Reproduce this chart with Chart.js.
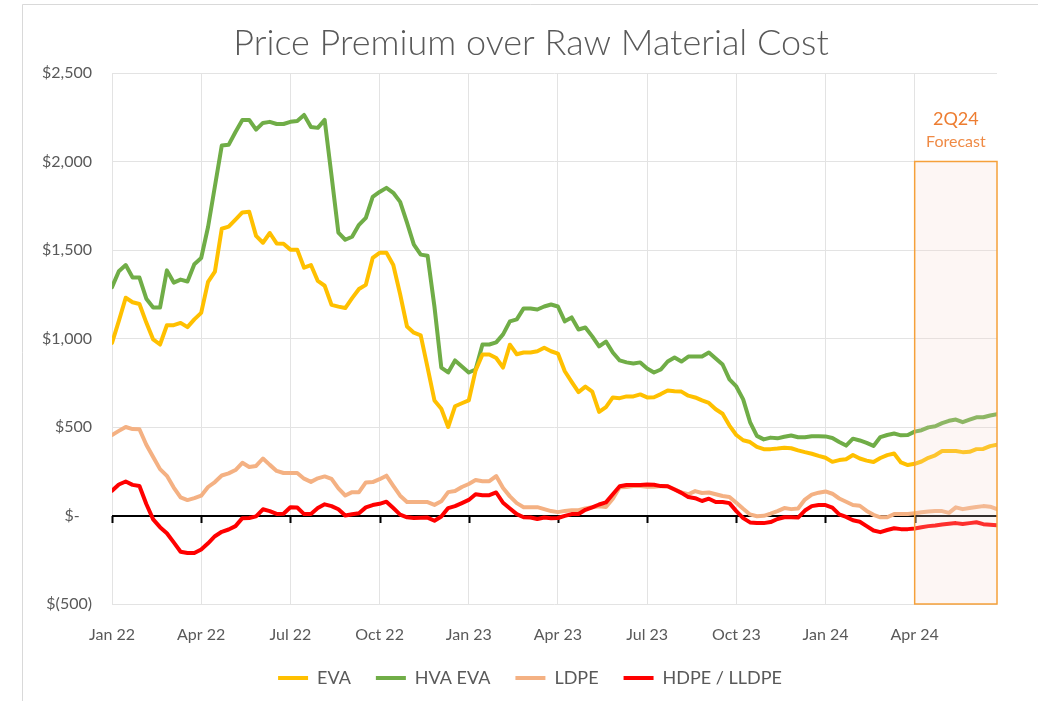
<!DOCTYPE html>
<html><head><meta charset="utf-8">
<script src="https://cdn.jsdelivr.net/npm/chart.js@4.4.1/dist/chart.umd.min.js"></script>
<style>html,body{margin:0;padding:0;background:#fff;}#wrap{width:1038px;height:701px;position:relative;}</style>
</head><body><div id="wrap"><canvas id="c" width="1038" height="701"></canvas></div>
<script>
const TITLE = 'Price Premium over Raw Material Cost';
const quarterLabels = ['Jan 22','Apr 22','Jul 22','Oct 22','Jan 23','Apr 23','Jul 23','Oct 23','Jan 24','Apr 24'];
const quarterTickWeeks = [0,13,26,39,52,65,78,91,104,117];
const yTickValues = [-500,0,500,1000,1500,2000,2500];
const yTickLabels = ['$(500)','$-   ','$500','$1,000','$1,500','$2,000','$2,500'];
const seriesNames = ['EVA','HVA EVA','LDPE','HDPE / LLDPE'];
const forecastStartWeek = 117, forecastEndWeek = 129, forecastTopValue = 2000;
const forecastLabel1 = '2Q24', forecastLabel2 = 'Forecast';

const EVA = [975,1100,1230,1205,1195,1090,995,966,1075,1075,1088,1064,1108,1145,1320,1378,1620,1632,1672,1712,
1716,1580,1541,1596,1537,1535,1502,1502,1400,1415,1325,1298,1190,1180,1172,1228,1280,1303,1455,1484,
1485,1415,1250,1068,1033,1018,835,650,603,500,617,634,650,820,910,910,890,836,965,911,
921,921,928,948,928,915,815,755,697,728,700,585,612,667,663,673,673,684,667,668,
686,706,702,700,677,667,650,636,600,575,508,455,425,415,388,375,375,378,383,380,
368,358,349,337,326,303,313,318,342,322,310,302,325,341,350,300,285,292,305,326,
340,364,364,364,358,360,375,376,392,400];
const HVA_EVA = [1290,1380,1415,1345,1344,1225,1175,1175,1385,1316,1333,1322,1420,1455,1630,1860,2090,2094,2167,2235,
2235,2180,2218,2224,2212,2212,2224,2229,2263,2195,2190,2235,1920,1598,1558,1575,1642,1682,1800,1828,
1851,1823,1772,1654,1530,1474,1468,1180,836,808,876,842,808,825,966,966,978,1023,1097,1108,
1170,1170,1164,1181,1192,1181,1097,1119,1051,1062,1012,955,983,921,876,865,859,865,831,808,
825,870,893,870,898,898,898,921,887,853,769,729,656,528,450,430,440,436,445,452,
442,442,448,448,447,438,415,395,434,424,410,393,443,455,463,453,455,474,482,498,
504,522,535,542,527,541,555,555,565,572];
const LDPE = [455,478,500,488,487,400,330,262,224,158,102,87,98,112,161,189,226,238,257,298,
274,280,322,286,252,240,240,240,208,190,210,221,207,153,113,132,132,187,189,205,
225,168,112,76,76,76,76,60,80,132,138,161,178,200,194,194,223,155,108,70,
47,47,47,36,25,19,26,30,30,40,47,52,48,95,160,161,166,166,163,162,
166,165,148,130,120,138,127,130,120,110,105,72,38,6,-4,-2,10,25,42,36,
40,90,118,129,136,123,96,78,59,55,26,4,-10,-10,8,8,8,13,18,22,
25,25,15,46,36,42,48,53,50,36];
const HDPE_LLDPE = [140,175,192,173,167,65,-22,-66,-100,-152,-205,-212,-212,-192,-157,-117,-92,-79,-60,-15,
-14,-5,35,25,9,10,47,45,8,8,42,63,53,35,0,7,13,46,59,66,
78,42,5,-10,-14,-13,-12,-30,-6,42,53,70,88,120,115,115,130,72,40,8,
-10,-11,-20,-11,-15,-14,-2,8,9,32,46,62,74,120,165,172,172,172,175,174,
166,165,147,128,104,98,82,95,76,76,70,25,-15,-39,-43,-43,-37,-20,-10,-10,
-12,28,53,59,59,45,6,-8,-27,-35,-60,-85,-94,-82,-72,-77,-77,-73,-66,-60,
-56,-51,-47,-43,-48,-43,-38,-49,-52,-55];
const weekIndex = EVA.map((_, i) => i);

const FONT = "Lato, 'Noto Sans', sans-serif";
const TXT = '#595959';

const deco = {
  id: 'deco',
  beforeDraw(chart) {
    const ctx = chart.ctx;
    ctx.save();
    ctx.fillStyle = '#fff';
    ctx.fillRect(0, 0, chart.width, chart.height);
    ctx.strokeStyle = '#d9d9d9';
    ctx.lineWidth = 1;
    ctx.beginPath();
    ctx.moveTo(22.5, chart.height);
    ctx.lineTo(22.5, 4.5);
    ctx.lineTo(chart.width, 4.5);
    ctx.stroke();
    ctx.fillStyle = TXT;
    ctx.font = "300 36px " + FONT;
    ctx.textAlign = 'center';
    ctx.textBaseline = 'middle';
    ctx.fillText(TITLE, 531, 43);
    ctx.restore();
  },
  beforeDatasetsDraw(chart) {
    const ctx = chart.ctx, xs = chart.scales.x, ys = chart.scales.y, a = chart.chartArea;
    const y0 = Math.round(ys.getPixelForValue(0));
    ctx.save();
    ctx.strokeStyle = '#000';
    ctx.lineWidth = 2;
    ctx.beginPath();
    ctx.moveTo(a.left, y0);
    ctx.lineTo(a.right, y0);
    quarterTickWeeks.forEach(w => {
      const px = Math.round(xs.getPixelForValue(w)) + 0.5;
      ctx.moveTo(px, y0);
      ctx.lineTo(px, y0 + 7);
    });
    ctx.stroke();
    ctx.restore();
  },
  afterDatasetsDraw(chart) {
    const ctx = chart.ctx, xs = chart.scales.x, ys = chart.scales.y;
    const x1 = xs.getPixelForValue(forecastStartWeek), x2 = xs.getPixelForValue(forecastEndWeek);
    const yT = ys.getPixelForValue(forecastTopValue), yB = ys.getPixelForValue(-500);
    ctx.save();
    ctx.fillStyle = 'rgba(248,212,205,0.22)';
    ctx.fillRect(x1, yT, x2 - x1, yB - yT);
    ctx.strokeStyle = '#f5a03a';
    ctx.lineWidth = 1.5;
    ctx.strokeRect(x1, yT, x2 - x1, yB - yT);
    ctx.fillStyle = '#ed7d31';
    ctx.textAlign = 'center';
    ctx.textBaseline = 'middle';
    const cx = (x1 + x2) / 2;
    ctx.font = "18px " + FONT;
    ctx.fillText(forecastLabel1, cx, yT - 42);
    ctx.globalAlpha = 0.9;
    ctx.font = "16px " + FONT;
    ctx.fillText(forecastLabel2, cx, yT - 20);
    ctx.restore();
  }
};

function ds(label, data, color, order) {
  return { label, data, borderColor: color, backgroundColor: color, borderWidth: 4,
    pointRadius: 0, pointHoverRadius: 0, tension: 0, fill: false,
    borderJoinStyle: 'round', borderCapStyle: 'round', order };
}

new Chart(document.getElementById('c'), {
  type: 'line',
  data: {
    labels: weekIndex,
    datasets: [
      ds(seriesNames[0], EVA, '#ffc000', 2),
      ds(seriesNames[1], HVA_EVA, '#70ad47', 3),
      ds(seriesNames[2], LDPE, '#f4b183', 1),
      ds(seriesNames[3], HDPE_LLDPE, '#ff0000', 0)
    ]
  },
  options: {
    responsive: false,
    animation: false,
    devicePixelRatio: 1,
    layout: { padding: { left: 22, right: 0, top: 73, bottom: 4 } },
    plugins: {
      title: { display: false },
      tooltip: { enabled: false },
      legend: {
        position: 'bottom',
        labels: {
          usePointStyle: true, pointStyle: 'line', pointStyleWidth: 30,
          padding: 25, color: TXT, font: { family: FONT, size: 18 },
          sort: (a, b) => a.datasetIndex - b.datasetIndex
        }
      }
    },
    scales: {
      x: {
        type: 'linear', min: 0, max: forecastEndWeek,
        afterBuildTicks: s => { s.ticks = quarterTickWeeks.map(v => ({ value: v })); },
        afterFit: s => { s.height = 40; },
        grid: { color: '#e3e3e3', lineWidth: 1, drawTicks: false },
        border: { display: false },
        ticks: {
          padding: 21, color: TXT, font: { family: FONT, size: 16 },
          maxRotation: 0, autoSkip: false,
          callback: v => quarterLabels[quarterTickWeeks.indexOf(v)]
        }
      },
      y: {
        min: -500, max: 2500,
        afterBuildTicks: s => { s.ticks = yTickValues.map(v => ({ value: v })); },
        afterFit: s => { s.width = 90; },
        grid: { color: '#e3e3e3', lineWidth: 1, drawTicks: false },
        border: { display: false },
        ticks: {
          padding: 20, color: TXT, font: { family: FONT, size: 16 },
          callback: v => yTickLabels[yTickValues.indexOf(v)]
        }
      },
      yRightSpace: {
        position: 'right', display: true,
        afterFit: s => { s.width = 41; },
        grid: { display: false, drawTicks: false },
        border: { display: false },
        ticks: { display: false }
      }
    }
  },
  plugins: [deco]
});
</script></body></html>
